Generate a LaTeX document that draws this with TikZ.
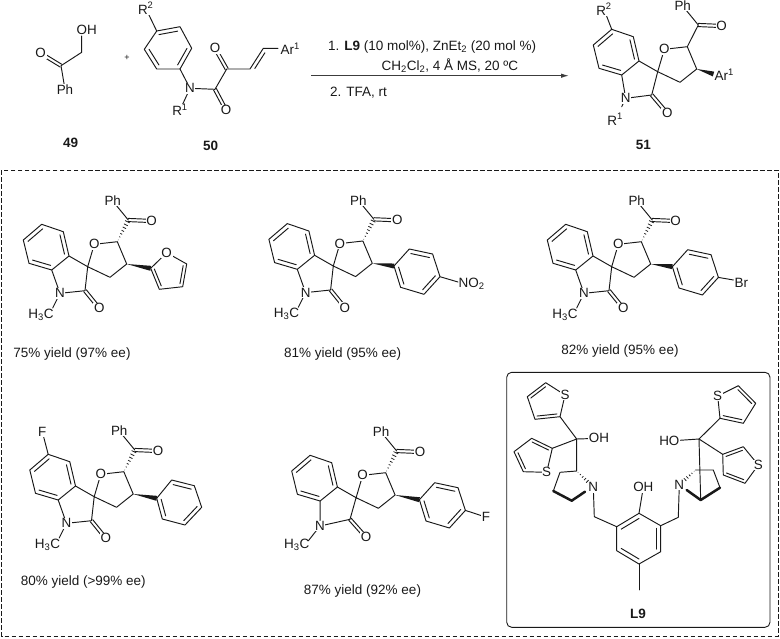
\documentclass[tikz,border=0pt]{standalone}
\usepackage{fontspec}
\setmainfont{Liberation Sans}
\usetikzlibrary{calc,arrows.meta}
\definecolor{ink}{gray}{0.1}
\tikzset{
  bond/.style={line width=0.95pt,color=ink,line cap=round,line join=round},
  boldbond/.style={line width=2.5pt,color=ink,line cap=round,line join=round},
  atom/.style={fill=white,inner sep=0.6pt,text=ink,font=\fontsize{13.4}{15}\selectfont},
  lab/.style={inner sep=0pt,text=ink,font=\fontsize{13.5}{15}\selectfont},
  num/.style={inner sep=0pt,text=ink,font=\fontsize{13.5}{15}\selectfont\bfseries},
}
\newcommand{\inb}[3]{\draw[bond] ($(#1)!.2!(#3)$) -- ($(#2)!.2!(#3)$);}
\newcommand{\dbb}[2]{\draw[bond] ($(#1)!1.6pt!90:(#2)$) -- ($(#2)!1.6pt!-90:(#1)$);
  \draw[bond] ($(#1)!1.6pt!-90:(#2)$) -- ($(#2)!1.6pt!90:(#1)$);}
\newcommand{\wdg}[2]{\fill[ink] (#1) -- ($(#2)!2.5pt!90:(#1)$) -- ($(#2)!2.5pt!-90:(#1)$) -- cycle;}
\newcommand{\hsh}[2]{\foreach \hh in {.08,.22,.36,.5,.64,.78,.92}{
  \draw[ink,line width=0.75pt] ($(#1)!\hh!(#2)!\hh*2.8pt!90:(#2)$) -- ($(#1)!\hh!(#2)!\hh*2.8pt!-90:(#2)$);}}
% spiro-oxindole core: #1 dx, #2 dy, #3 N-substituent, #4 coordinate overrides
\newcommand{\core}[4]{%
\begin{scope}[shift={(#1,#2)}]
  \coordinate (a1) at (41.7,224.3);\coordinate (a2) at (63.3,231.7);\coordinate (a3) at (69,256);
  \coordinate (a4) at (51.7,270);\coordinate (a5) at (29,263.3);\coordinate (a6) at (23.3,240);
  \coordinate (ac) at (46.5,247);
  \coordinate (sp) at (87.7,266.7);\coordinate (ox) at (94.3,244.3);\coordinate (c5) at (117.3,241.7);
  \coordinate (c4) at (126.7,264);\coordinate (c3) at (110,277.3);\coordinate (lc) at (85,290.7);
  \coordinate (lo) at (99.3,308.3);\coordinate (nn) at (60,293.3);\coordinate (me) at (52.7,308);
  \coordinate (lm) at (41,314.5);
  \coordinate (cc) at (128.3,220);\coordinate (co) at (151.7,221);\coordinate (ph) at (112.7,201);
  #4
  \draw[bond] (a1)--(a2)--(a3)--(a4)--(a5)--(a6)--cycle;
  \inb{a6}{a1}{ac}\inb{a2}{a3}{ac}\inb{a4}{a5}{ac}
  \draw[bond] (a3)--(sp)--(ox)--(c5)--(c4)--(c3)--(sp)--(lc)--(nn)--(a4);
  \draw[bond] (nn)--(me);\draw[bond] (cc)--(ph);
  \dbb{lc}{lo}\dbb{cc}{co}
  \node[atom] (lox) at (ox) {O};
  \node[atom] (llo) at (lo) {O};
  \node[atom] (lco) at (co) {O};
  \node[atom] (lph) at (ph) {Ph};
  \node[atom] (lnn) at (nn) {N};
  \node[lab] (lme) at (lm) {#3};
\end{scope}}
% para-substituted phenyl placed on the core: #1 dx, #2 dy
\newcommand{\aryl}[2]{%
\begin{scope}[shift={(#1,#2)}]
  \coordinate (p1) at (148.4,266.7);\coordinate (p2) at (163.7,249.7);\coordinate (p3) at (187,254.7);
  \coordinate (p4) at (194.4,277.4);\coordinate (p5) at (178.4,295);\coordinate (p6) at (155,288);
  \coordinate (pc) at (171.4,272.4);
  \draw[bond] (p1)--(p2)--(p3)--(p4)--(p5)--(p6)--cycle;
  \inb{p2}{p3}{pc}\inb{p4}{p5}{pc}\inb{p6}{p1}{pc}
\end{scope}
\wdg{c4}{p1}}
\begin{document}
\begin{tikzpicture}[x=1pt,y=-1pt]
\useasboundingbox (0,0) rectangle (780,638);
\draw[ink,line width=0.8pt,dash pattern=on 4.5pt off 2.5pt] (1.5,170) rectangle (778,636);
\draw[ink,line width=0.9pt,rounded corners=5pt] (506.7,372.3) rectangle (770,627.3);

% ---------- 49
\coordinate (k1) at (61,65.7);\coordinate (k2) at (40.7,53.3);\coordinate (k3) at (81.7,52.3);
\coordinate (k4) at (86.7,30);\coordinate (k5) at (65,89.3);\coordinate (k6) at (81.7,36);
\draw[bond] (k5)--(k1)--(k3)--(k6);
\dbb{k1}{k2}
\node[atom] (o49) at (k2) {O};
\node[atom] (h49) at (k4) {OH};
\node[atom] (p49) at (k5) {Ph};
\node[num] (n49) at (70.7,143.3) {49};
\node[lab,font=\fontsize{9}{10}\selectfont] (plus) at (127,58) {+};

% ---------- 50
\coordinate (r1) at (156.7,31);\coordinate (r2) at (180,26.7);\coordinate (r3) at (191.7,48.3);
\coordinate (r4) at (180,69);\coordinate (r5) at (156.7,69);\coordinate (r6) at (144.3,49.3);
\coordinate (rc) at (168,49);\coordinate (rt) at (145.7,8.3);
\coordinate (bn) at (190,88.3);\coordinate (br) at (180,110);
\coordinate (b1) at (215,89.3);\coordinate (bo1) at (226,110);\coordinate (b2) at (226.7,69);
\coordinate (bo2) at (215,48.3);\coordinate (b3) at (250,69);\coordinate (b4) at (263.3,48.3);
\coordinate (b5) at (278,48.3);
\draw[bond] (r1)--(r2)--(r3)--(r4)--(r5)--(r6)--cycle;
\inb{r1}{r2}{rc}\inb{r3}{r4}{rc}\inb{r5}{r6}{rc}
\draw[bond] (rt)--(r1);
\draw[bond] (r4)--(bn)--(br);
\draw[bond] (bn)--(b1)--(b2)--(b3)--(b4)--(b5);
\draw[bond] ($(b3)!.12!(b4)+(3.2,2)$)--($(b3)!.88!(b4)+(3.2,2)$);
\dbb{b1}{bo1}\dbb{b2}{bo2}
\node[atom] (r50) at (rt) {R\textsuperscript{2}};
\node[atom] (n50) at (bn) {N};
\node[atom] (s50) at (br) {R\textsuperscript{1}};
\node[atom] (o50a) at (bo1) {O};
\node[atom] (o50b) at (bo2) {O};
\node[lab,anchor=west] (a50) at (280.5,48.5) {Ar\textsuperscript{1}};
\node[num] (n50b) at (210.7,145.7) {50};

% ---------- arrow
\coordinate (ars) at (311,75.7);\coordinate (are) at (569,75.7);
\draw[line width=1.1pt,color=ink!85,-{Latex[length=8pt,width=4.5pt]}] (ars)--(are);
\node[lab,anchor=west] (t1) at (328,47) {1. \textbf{L9} (10 mol\%), ZnEt\textsubscript{2} (20 mol \%)};
\node[lab,anchor=west] (t2) at (381.5,66) {CH\textsubscript{2}Cl\textsubscript{2}, 4 Å MS, 20 ºC};
\node[lab,anchor=west] (t3) at (330,93) {2. TFA, rt};

% ---------- 51
\core{570}{-195}{R\textsuperscript{1}}{%
  \coordinate (nn) at (55.7,293.3);\coordinate (lc) at (81.7,290);\coordinate (lo) at (97.3,308.3);
  \coordinate (me) at (51.7,301.7);\coordinate (lm) at (45,314.3);}
\draw[bond] (c5)--(cc);
\coordinate (x51) at (713.5,74);
\wdg{c4}{x51}
\coordinate (q0) at (604,9.3);
\draw[bond] (a1)--(q0);
\node[atom] (r51) at (q0) {R\textsuperscript{2}};
\node[lab,anchor=west] (a51) at (714.5,75) {Ar\textsuperscript{1}};
\node[num] (n51) at (643.3,145) {51};

% ---------- compound 1 (furyl)
\core{0}{0}{H\textsubscript{3}C}{}
\hsh{c5}{cc}
\coordinate (f1) at (150.7,268.3);\coordinate (f2) at (166.7,252.7);\coordinate (f3) at (186.7,264);
\coordinate (f4) at (182.7,286.7);\coordinate (f5) at (159.3,289.3);\coordinate (fc) at (169,272);
\draw[bond] (f1)--(f2)--(f3)--(f4)--(f5)--cycle;
\inb{f3}{f4}{fc}\inb{f5}{f1}{fc}
\wdg{c4}{f1}
\node[atom] (of) at (f2) {O};
\node[lab] (y1) at (72,354) {75\% yield (97\% ee)};

% ---------- compound 2 (NO2)
\core{245.6}{-0.7}{H\textsubscript{3}C}{}
\hsh{c5}{cc}
\aryl{245.6}{-0.7}
\coordinate (e2) at (458,282);
\draw[bond] (p4)--(e2);
\node[lab,anchor=west] (no) at (458.5,283.5) {NO\textsubscript{2}};
\node[lab] (y2) at (342.7,354) {81\% yield (95\% ee)};

% ---------- compound 3 (Br)
\core{524}{0}{H\textsubscript{3}C}{}
\hsh{c5}{cc}
\aryl{524}{0}
\coordinate (e3) at (733.5,280);
\draw[bond] (p4)--(e3);
\node[lab,anchor=west] (br3) at (734.5,283) {Br};
\node[lab] (y3) at (620,351) {82\% yield (95\% ee)};

% ---------- compound 4 (F, Ph)
\core{6.5}{230}{H\textsubscript{3}C}{}
\hsh{c5}{cc}
\coordinate (w1) at (156.7,498.3);\coordinate (w2) at (171.7,480);\coordinate (w3) at (194.3,485.7);
\coordinate (w4) at (201.7,507.3);\coordinate (w5) at (185,525);\coordinate (w6) at (162.3,519);
\coordinate (wc) at (179,503);
\draw[bond] (w1)--(w2)--(w3)--(w4)--(w5)--(w6)--cycle;
\inb{w2}{w3}{wc}\inb{w4}{w5}{wc}\inb{w6}{w1}{wc}
\wdg{c4}{w1}
\coordinate (ff) at (42.3,431.7);
\draw[bond] (a1)--(ff);
\node[atom] (f4lab) at (ff) {F};
\node[lab] (y4) at (83.3,581.7) {80\% yield (>99\% ee)};

% ---------- compound 5 (F)
\core{268.4}{231}{H\textsubscript{3}C}{%
  \coordinate (nn) at (51.6,295);\coordinate (lc) at (81.6,288.3);\coordinate (lo) at (97.6,306.3);
  \coordinate (me) at (40,309.7);\coordinate (lm) at (28.3,314);}
\hsh{c5}{cc}
\aryl{271}{233}
\coordinate (e5) at (481,515.5);
\draw[bond] (p4)--(e5);
\node[atom] (f5lab) at (486,516.7) {F};
\node[lab] (y5) at (362.5,590.7) {87\% yield (92\% ee)};

% ---------- L9
\coordinate (t1s) at (565,395);\coordinate (t12) at (560,416.7);\coordinate (t13) at (535,419.3);
\coordinate (t14) at (527.3,396.7);\coordinate (t15) at (545.7,382.7);\coordinate (t1c) at (545,403);
\coordinate (cl) at (576.7,439);
\coordinate (ohl) at (599,438.3);
\coordinate (t22) at (552.3,448.3);\coordinate (t23) at (531.7,438.3);\coordinate (t24) at (514,451.7);
\coordinate (t25) at (523.3,471.7);\coordinate (t2s) at (546.7,472.3);\coordinate (t2c) at (534,457);
\coordinate (pl1) at (576.7,471);\coordinate (pl2) at (560,472.3);\coordinate (pl3) at (553.3,491);
\coordinate (pl4) at (571.7,500.7);\coordinate (nl) at (593.3,487.3);\coordinate (nlb) at (585,491.7);
\coordinate (ch1) at (594.3,516.7);
\coordinate (m1) at (616.7,526.7);\coordinate (m2) at (639,513.3);\coordinate (m3) at (660.7,525.7);
\coordinate (m4) at (660.7,551.7);\coordinate (m5) at (639,564);\coordinate (m6) at (616.7,550.7);
\coordinate (mc) at (639,539);\coordinate (mme) at (639,590);\coordinate (oh) at (643.3,487.3);
\coordinate (oh0) at (639,498);
\coordinate (ch2) at (678.3,517.3);\coordinate (nr) at (679.3,485);\coordinate (nrb) at (686.7,490);
\coordinate (cr) at (699,439);\coordinate (ohr) at (669.3,441);
\coordinate (t32) at (720,418.3);\coordinate (t3s) at (717.7,396);\coordinate (t35) at (738.3,385.7);
\coordinate (t34) at (755.7,403.3);\coordinate (t33) at (743.3,423.3);\coordinate (t3c) at (736,405);
\coordinate (t42) at (722.7,454.3);\coordinate (t43) at (743.3,446.7);\coordinate (t4s) at (758.3,465);
\coordinate (t45) at (745,483.3);\coordinate (t44) at (723.3,475);\coordinate (t4c) at (739,465);
\coordinate (pr1) at (695.5,470);\coordinate (pr2) at (713.3,470);\coordinate (pr3) at (720,487.7);
\coordinate (pr4) at (700.7,500);
\draw[bond] (t1s)--(t12)--(t13)--(t14)--(t15)--cycle;
\inb{t12}{t13}{t1c}\inb{t14}{t15}{t1c}
\draw[bond] (t22)--(t23)--(t24)--(t25)--(t2s)--cycle;
\inb{t22}{t23}{t2c}\inb{t24}{t25}{t2c}
\draw[bond] (t12)--(cl)--(t22);
\draw[bond] (cl)--(ohl);
\draw[bond] (cl)--(pl1)--(pl2)--(pl3);
\hsh{pl1}{nl}
\draw[boldbond] (pl3)--(pl4)--(nlb);
\draw[bond] (nl)--(ch1)--(m1);
\draw[bond] (m1)--(m2)--(m3)--(m4)--(m5)--(m6)--cycle;
\inb{m1}{m2}{mc}\inb{m3}{m4}{mc}\inb{m5}{m6}{mc}
\draw[bond] (m5)--(mme);
\draw[bond] (m2)--(oh);
\draw[bond] (m3)--(ch2)--(nr);
\draw[bond] (t3s)--(t32)--(t33)--(t34)--(t35)--cycle;
\inb{t32}{t33}{t3c}\inb{t34}{t35}{t3c}
\draw[bond] (t42)--(t43)--(t4s)--(t45)--(t44)--cycle;
\inb{t42}{t43}{t4c}\inb{t45}{t44}{t4c}
\draw[bond] (t32)--(cr)--(t42);
\draw[bond] (cr)--(ohr);
\draw[bond] (pr1)--(pr2)--(pr3);
\hsh{pr1}{nr}
\draw[boldbond] (pr3)--(pr4)--(nrb);
\draw[bond] (cr)--(pr4);
\node[atom] (s1) at (t1s) {S};
\node[atom] (s2) at (t2s) {S};
\node[atom] (s3) at (t3s) {S};
\node[atom] (s4) at (t4s) {S};
\node[atom] (lohl) at (ohl) {OH};
\node[atom] (lohr) at (ohr) {HO};
\node[atom] (lnl) at (nl) {N};
\node[atom] (lnr) at (nr) {N};
\node[atom] (loh) at (oh) {OH};
\node[num] (l9) at (638,614) {L9};
\end{tikzpicture}
\end{document}
